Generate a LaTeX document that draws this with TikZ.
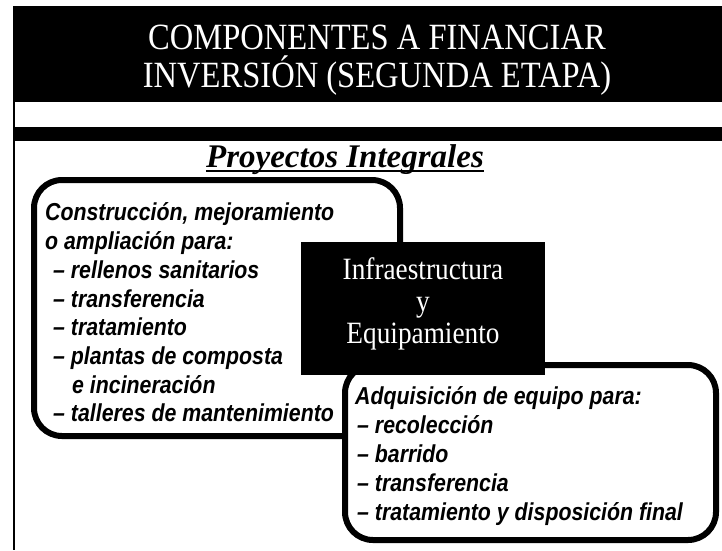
\documentclass[tikz,border=0pt]{standalone}
\usepackage{fontspec}
\setmainfont{Liberation Serif}
\newfontfamily\centerfont[FakeStretch=0.88]{Liberation Serif}
\newfontfamily\boxfont[FakeStretch=0.87]{Liberation Sans}
\begin{document}
\begin{tikzpicture}[x=1pt,y=-1pt,
  boxline/.style={line width=6pt, rounded corners=28pt},
  titletext/.style={text=white, inner sep=0pt, anchor=base, font=\centerfont\fontsize{37}{38}\selectfont},
  centertext/.style={text=white, inner sep=0pt, anchor=base, font=\centerfont\fontsize{31}{32}\selectfont},
  listtext/.style={inner sep=0pt, anchor=base west, font=\boxfont\bfseries\itshape\fontsize{24.5}{28}\selectfont}]
\useasboundingbox (0,0) rectangle (722,550);
\fill[white] (0,0) rectangle (722,550);
% header
\fill[black] (13,6) rectangle (722,102);
\fill[black] (13,127) rectangle (722,141);
\draw[line width=2pt] (14,6) -- (14,550);
\node[titletext] (t1) at (377,49) {COMPONENTES A FINANCIAR};
\node[titletext] (t2) at (377,87) {INVERSIÓN (SEGUNDA ETAPA)};
% subtitle
\node[inner sep=0pt, anchor=base, font=\bfseries\itshape\fontsize{33}{36}\selectfont] (pi) at (345,167) {Proyectos Integrales};
\draw[line width=2pt] ([yshift=-4pt]pi.base west) -- ([yshift=-4pt]pi.base east);
% boxes
\draw[boxline, fill=white] (34,180) rectangle (400,436);
\draw[boxline, fill=white] (345,365) rectangle (716,540);
\fill[black] (301,242) rectangle (545,375);
\node[centertext] (c1) at (423,279) {Infraestructura};
\node[centertext] (c2) at (423,311) {y};
\node[centertext] (c3) at (423,343) {Equipamiento};
% left list
\node[listtext] (l1) at (45,220) {Construcción, mejoramiento};
\node[listtext] (l2) at (45,249) {o ampliación para:};
\node[listtext] (l3) at (53,278) {– rellenos sanitarios};
\node[listtext] (l4) at (53,307) {– transferencia};
\node[listtext] (l5) at (53,335) {– tratamiento};
\node[listtext] (l6) at (53,364) {– plantas de composta};
\node[listtext] (l7) at (72,393) {e incineración};
\node[listtext] (l8) at (53,421) {– talleres de mantenimiento};
% right list
\node[listtext] (r1) at (355,404) {Adquisición de equipo para:};
\node[listtext] (r2) at (357,433) {– recolección};
\node[listtext] (r3) at (357,462) {– barrido};
\node[listtext] (r4) at (357,491) {– transferencia};
\node[listtext] (r5) at (357,520) {– tratamiento y disposición final};
\end{tikzpicture}
\end{document}
